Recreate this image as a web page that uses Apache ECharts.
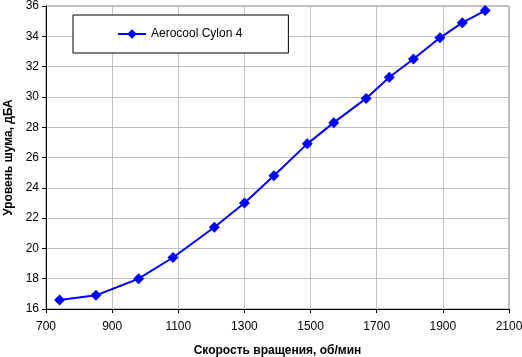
<!DOCTYPE html>
<html><head><meta charset="utf-8">
<script src="https://cdn.jsdelivr.net/npm/echarts@6/dist/echarts.min.js"></script>
<style>html,body{margin:0;padding:0;background:#fff}#c{width:522px;height:357px}</style>
</head><body><div id="c"></div>
<script>
const seriesName = 'Aerocool Cylon 4';
const rpm = [741, 851, 980, 1084, 1209, 1300, 1389, 1490, 1570, 1668, 1738, 1811, 1891, 1959, 2028];
const noise = [16.6, 16.9, 18.0, 19.4, 21.4, 23.0, 24.8, 26.9, 28.3, 29.9, 31.3, 32.5, 33.9, 34.9, 35.7];
const xTitle = 'Скорость вращения, об/мин';
const yTitle = 'Уровень шума, дБА';

const chart = echarts.init(document.getElementById('c'), null, {renderer: 'canvas'});
const font = 'Liberation Sans, Arial, sans-serif';
chart.setOption({
  animation: false,
  grid: {left: 46, top: 6, right: 13, bottom: 48, show: true, borderColor: '#808080', borderWidth: 1,
         containLabel: false, outerBoundsMode: 'none'},
  legend: {
    show: true, left: 73, top: 15,
    padding: [13, 46, 13, 44],
    borderColor: '#000', borderWidth: 1, backgroundColor: '#fff',
    itemWidth: 28, itemHeight: 12, itemGap: 5,
    textStyle: {fontFamily: font, fontSize: 12, color: '#000'},
    data: [seriesName]
  },
  xAxis: {
    type: 'value', min: 700, max: 2100, interval: 200,
    name: xTitle, nameLocation: 'middle', nameGap: 36,
    nameTextStyle: {fontFamily: font, fontSize: 12, fontWeight: 'bold', color: '#000'},
    axisLine: {show: true, onZero: false, lineStyle: {color: '#000'}},
    axisTick: {show: true, length: 4, inside: false, lineStyle: {color: '#000'}},
    axisLabel: {fontFamily: font, fontSize: 12, color: '#000', margin: 12, formatter: v => String(v)},
    splitLine: {show: true, lineStyle: {color: '#c0c0c0'}}
  },
  yAxis: {
    type: 'value', min: 16, max: 36, interval: 2,
    name: yTitle, nameLocation: 'middle', nameGap: 31,
    nameTextStyle: {fontFamily: font, fontSize: 12, fontWeight: 'bold', color: '#000'},
    axisLine: {show: true, onZero: false, lineStyle: {color: '#000'}},
    axisTick: {show: true, length: 4, inside: false, lineStyle: {color: '#000'}},
    axisLabel: {fontFamily: font, fontSize: 12, color: '#000', margin: 7},
    splitLine: {show: true, lineStyle: {color: '#c0c0c0'}}
  },
  series: [{
    name: seriesName, type: 'line',
    data: rpm.map((r, i) => [r, noise[i]]),
    symbol: 'diamond', symbolSize: 11,
    lineStyle: {color: '#0000ff', width: 2},
    itemStyle: {color: '#0000ff'}
  }]
});
</script></body></html>
